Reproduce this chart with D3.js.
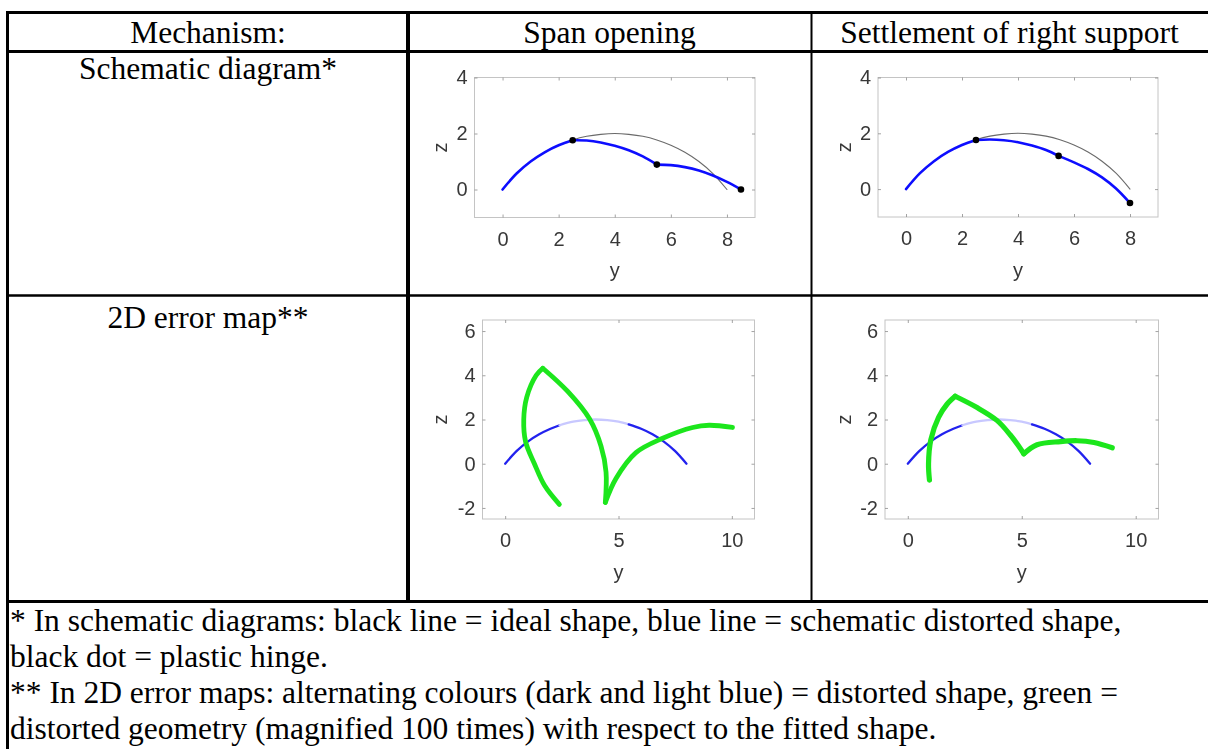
<!DOCTYPE html>
<html>
<head>
<meta charset="utf-8">
<script src="https://cdn.jsdelivr.net/npm/d3@7"></script>
<style>
  html, body { margin: 0; padding: 0; background: #fff; }
  svg { display: block; }
</style>
</head>
<body>
<svg id="chart" width="1208" height="749"></svg>
<script>
// ---- table text ----
const headers = ["Mechanism:", "Span opening", "Settlement of right support"];
const rowLabels = ["Schematic diagram*", "2D error map**"];
const footnotes = [
  "* In schematic diagrams: black line = ideal shape, blue line = schematic distorted shape,",
  "black dot = plastic hinge.",
  "** In 2D error maps: alternating colours (dark and light blue) = distorted shape, green =",
  "distorted geometry (magnified 100 times) with respect to the fitted shape."
];

// ---- axis ticks ----
const schemYTicks = [0, 2, 4, 6, 8];
const schemZTicks = [0, 2, 4];
const mapYTicks = [0, 5, 10];
const mapZTicks = [-2, 0, 2, 4, 6];

// ---- ideal arch (y, z) ----
const idealArch = [[0,0],[0.5,0.57],[1,1.0],[1.5,1.33],[2,1.58],[2.5,1.77],[3,1.9],[3.5,1.97],[4,2],
  [4.5,1.97],[5,1.9],[5.5,1.77],[6,1.58],[6.5,1.33],[7,1.0],[7.5,0.57],[8,0]];

// ---- span opening: schematic distorted shape, segments between hinges ----
const spanSeg1 = [[0,0],[0.5,0.57],[1,1.0],[1.5,1.33],[2,1.58],[2.5,1.76]];
const spanSeg2 = [[2.5,1.76],[3,1.75],[3.5,1.68],[4,1.56],[4.5,1.4],[5,1.18],[5.5,0.89]];
const spanSeg3 = [[5.5,0.89],[6,0.87],[6.5,0.8],[7,0.68],[7.5,0.5],[8,0.27],[8.5,0]];
const spanHinges = [[2.5,1.76],[5.5,0.89],[8.5,0]];

// ---- settlement of right support: schematic distorted shape ----
const settleSeg1 = [[0,0],[0.5,0.57],[1,1.0],[1.5,1.33],[2,1.58],[2.5,1.76]];
const settleSeg2 = [[2.5,1.76],[3,1.78],[3.5,1.75],[4,1.68],[4.5,1.56],[5,1.4],[5.45,1.19]];
const settleSeg3 = [[5.45,1.19],[6,0.96],[6.5,0.72],[7,0.42],[7.5,0.02],[8,-0.5]];
const settleHinges = [[2.5,1.76],[5.45,1.19],[8,-0.5]];

// ---- error maps: fitted shape in alternating shades ----
const archDarkA = [[0,0],[0.5,0.57],[1,1.0],[1.5,1.33],[2,1.58],[2.4,1.74]];
const archLight = [[2.4,1.74],[3,1.9],[3.5,1.97],[4,2],[4.5,1.97],[5,1.9],[5.45,1.78]];
const archDarkB = [[5.45,1.78],[6,1.58],[6.5,1.33],[7,1.0],[7.5,0.57],[8,0]];

// ---- error maps: distorted geometry (x100) ----
const spanGreen = [
  [[2.39,-1.84],[1.74,-0.99],[1.29,0],[0.9,1.0],[0.82,2.0],[0.95,3.0],[1.37,4.0],[1.66,4.32]],
  [[1.66,4.32],[2.76,3.27],[3.72,2.03],[4.23,0.79],[4.45,-0.38],[4.42,-1.75]],
  [[4.42,-1.75],[4.89,-0.67],[5.77,0.5],[6.95,1.15],[8.27,1.64],[9.0,1.74],[10.03,1.64]]
];
const settleGreen = [
  [[0.95,-0.74],[0.91,0],[1.01,1.08],[1.35,2.1],[1.72,2.69],[2.08,3.05]],
  [[2.08,3.05],[3.04,2.54],[3.91,1.96],[4.5,1.3],[4.87,0.79],[5.09,0.45]],
  [[5.09,0.45],[5.67,0.86],[6.7,1.0],[7.43,1.04],[8.17,0.96],[8.97,0.72]]
];

const svg = d3.select("#chart");
const serif = "'Liberation Serif', 'Times New Roman', serif";
const sans = "'Liberation Sans', Arial, Helvetica, sans-serif";

// soft filter for the embedded plots
const defs = svg.append("defs");
defs.append("filter").attr("id", "soft")
  .attr("x", "-5%").attr("y", "-5%").attr("width", "110%").attr("height", "110%")
  .append("feGaussianBlur").attr("stdDeviation", 0.45);

// ---- table grid ----
const grid = svg.append("g").attr("stroke", "#000").attr("fill", "none");
const colX = [7.5, 408, 811.5];
grid.append("line").attr("x1", 6).attr("x2", 1208).attr("y1", 12.5).attr("y2", 12.5).attr("stroke-width", 3);
grid.append("line").attr("x1", 6).attr("x2", 1208).attr("y1", 51.5).attr("y2", 51.5).attr("stroke-width", 3);
grid.append("line").attr("x1", 6).attr("x2", 1208).attr("y1", 295.5).attr("y2", 295.5).attr("stroke-width", 2.5);
grid.append("line").attr("x1", 6).attr("x2", 1208).attr("y1", 601.5).attr("y2", 601.5).attr("stroke-width", 3);
grid.append("line").attr("x1", colX[0]).attr("x2", colX[0]).attr("y1", 11).attr("y2", 749).attr("stroke-width", 3);
grid.append("line").attr("x1", colX[1]).attr("x2", colX[1]).attr("y1", 11).attr("y2", 603).attr("stroke-width", 4);
grid.append("line").attr("x1", colX[2]).attr("x2", colX[2]).attr("y1", 11).attr("y2", 603).attr("stroke-width", 2);

const textSize = 31.5;
const colCenters = [208, 609.5, 1009.5];
svg.append("g").selectAll("text").data(headers).join("text")
  .attr("x", (d, i) => colCenters[i]).attr("y", 43)
  .attr("text-anchor", "middle").attr("font-family", serif).attr("font-size", textSize)
  .attr("fill", "#000").text(d => d);

svg.append("g").selectAll("text").data(rowLabels).join("text")
  .attr("x", colCenters[0]).attr("y", (d, i) => [79, 328][i])
  .attr("text-anchor", "middle").attr("font-family", serif).attr("font-size", textSize)
  .attr("fill", "#000").text(d => d);

svg.append("g").selectAll("text").data(footnotes).join("text")
  .attr("x", 10).attr("y", (d, i) => 631 + i * 36)
  .attr("font-family", serif).attr("font-size", textSize)
  .attr("fill", "#000").text(d => d);

// ---- one MATLAB-style panel ----
function panel(box, yDom, zDom, yTicks, zTicks) {
  const g = svg.append("g").attr("filter", "url(#soft)");
  const x = d3.scaleLinear().domain(yDom).range([box.l, box.r]);
  const y = d3.scaleLinear().domain(zDom).range([box.b, box.t]);
  const tickCol = "#8c8c8c", txtCol = "#383838";
  const fmt = d => String(d);

  g.append("rect").attr("x", box.l).attr("y", box.t)
    .attr("width", box.r - box.l).attr("height", box.b - box.t)
    .attr("fill", "#fff").attr("stroke", "#c4c4c4").attr("stroke-width", 1);

  const styleAxis = sel => {
    sel.attr("font-size", null).attr("font-family", null);
    sel.select(".domain").remove();
    sel.selectAll(".tick line").attr("stroke", tickCol).attr("stroke-width", 0.8);
    sel.selectAll(".tick text").attr("fill", txtCol)
      .style("font-family", sans).style("font-size", "20px");
  };
  g.append("g").attr("transform", `translate(0,${box.b})`)
    .call(d3.axisBottom(x).tickValues(yTicks).tickSizeInner(-3).tickSizeOuter(0).tickPadding(14).tickFormat(fmt))
    .call(styleAxis);
  g.append("g").attr("transform", `translate(0,${box.t})`)
    .call(d3.axisTop(x).tickValues(yTicks).tickSizeInner(-3).tickSizeOuter(0).tickFormat(""))
    .call(styleAxis);
  g.append("g").attr("transform", `translate(${box.l},0)`)
    .call(d3.axisLeft(y).tickValues(zTicks).tickSizeInner(-3).tickSizeOuter(0).tickPadding(7).tickFormat(fmt))
    .call(styleAxis);
  g.append("g").attr("transform", `translate(${box.r},0)`)
    .call(d3.axisRight(y).tickValues(zTicks).tickSizeInner(-3).tickSizeOuter(0).tickFormat(""))
    .call(styleAxis);

  g.append("text").attr("x", (box.l + box.r) / 2).attr("y", box.yLab)
    .attr("text-anchor", "middle").style("font-family", sans).style("font-size", "20px")
    .attr("fill", txtCol).text("y");
  g.append("text").attr("transform", `translate(${box.zLab},${(box.t + box.b) / 2}) rotate(-90)`)
    .attr("text-anchor", "middle").style("font-family", sans).style("font-size", "20px")
    .attr("fill", txtCol).text("z");

  const line = d3.line().x(d => x(d[0])).y(d => y(d[1])).curve(d3.curveCatmullRom.alpha(0.5));
  const marks = g.append("g");
  return { g: marks, x, y, line };
}

function drawPath(p, pts, color, width, opacity = 1) {
  p.g.append("path").attr("d", p.line(pts)).attr("fill", "none")
    .attr("stroke", color).attr("stroke-width", width).attr("stroke-opacity", opacity)
    .attr("stroke-linecap", "round").attr("stroke-linejoin", "round");
}
function drawHinges(p, pts) {
  p.g.selectAll("circle.h").data(pts).join("circle").attr("class", "h")
    .attr("cx", d => p.x(d[0])).attr("cy", d => p.y(d[1])).attr("r", 3.3).attr("fill", "#000");
}

const blue = "#1010ff", green = "#1ee61e";

// schematic: span opening
const p1 = panel({ l: 474.5, r: 755, t: 77.5, b: 217.5, yLab: 277, zLab: 447 }, [-1, 9], [-1, 4], schemYTicks, schemZTicks);
drawPath(p1, idealArch, "#6a6a6a", 1.1);
[spanSeg1, spanSeg2, spanSeg3].forEach(s => drawPath(p1, s, blue, 2.6));
drawHinges(p1, spanHinges);

// schematic: settlement of right support
const p2 = panel({ l: 878, r: 1158, t: 77.5, b: 217, yLab: 277, zLab: 850.5 }, [-1, 9], [-1, 4], schemYTicks, schemZTicks);
drawPath(p2, idealArch, "#6a6a6a", 1.1);
[settleSeg1, settleSeg2, settleSeg3].forEach(s => drawPath(p2, s, blue, 2.6));
drawHinges(p2, settleHinges);

// error map: span opening
const p3 = panel({ l: 482.5, r: 754.5, t: 320, b: 519, yLab: 579, zLab: 447 }, [-1, 11], [-2.5, 6.5], mapYTicks, mapZTicks);
drawPath(p3, archDarkA, "#2222ee", 2.3);
drawPath(p3, archLight, "#c8c8ff", 2.3);
drawPath(p3, archDarkB, "#2222ee", 2.3);
spanGreen.forEach(s => drawPath(p3, s, green, 4.8));

// error map: settlement of right support
const p4 = panel({ l: 885, r: 1158.5, t: 320, b: 519, yLab: 579, zLab: 850.5 }, [-1, 11], [-2.5, 6.5], mapYTicks, mapZTicks);
drawPath(p4, archDarkA, "#2222ee", 2.3);
drawPath(p4, archLight, "#c8c8ff", 2.3);
drawPath(p4, archDarkB, "#2222ee", 2.3);
settleGreen.forEach(s => drawPath(p4, s, green, 5.2));
</script>
</body>
</html>
